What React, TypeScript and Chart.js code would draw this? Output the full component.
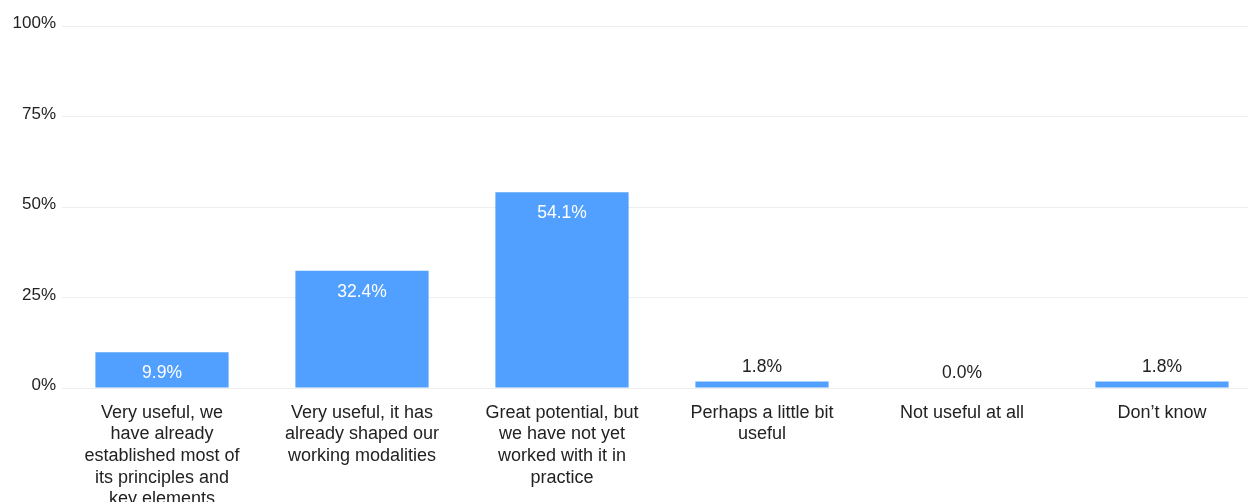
import React, { useEffect, useRef } from "react";
import { Chart, registerables } from "chart.js";

Chart.register(...registerables);

const categories: string[][] = [
  ["Very useful, we", "have already", "established most of", "its principles and", "key elements"],
  ["Very useful, it has", "already shaped our", "working modalities"],
  ["Great potential, but", "we have not yet", "worked with it in", "practice"],
  ["Perhaps a little bit", "useful"],
  ["Not useful at all"],
  ["Don\u2019t know"],
];
const values: number[] = [9.9, 32.4, 54.1, 1.8, 0.0, 1.8];
const yTicks: number[] = [0, 25, 50, 75, 100];

const FONT = "'Liberation Sans', Arial, sans-serif";
const BAR_COLOR = "#519FFF";
const TEXT_COLOR = "#222222";

const valueLabelPlugin = {
  id: "valueLabels",
  afterDatasetsDraw(chart: any) {
    const ctx = chart.ctx;
    const meta = chart.getDatasetMeta(0);
    ctx.save();
    ctx.font = `17.5px ${FONT}`;
    ctx.textAlign = "center";
    ctx.textBaseline = "middle";
    meta.data.forEach((bar: any, i: number) => {
      const v = values[i];
      const h = bar.base - bar.y;
      const txt = v.toFixed(1) + "%";
      if (h > 30) {
        ctx.fillStyle = "#ffffff";
        ctx.fillText(txt, bar.x, bar.y + 21);
      } else {
        ctx.fillStyle = TEXT_COLOR;
        ctx.fillText(txt, bar.x, bar.y - 14.5);
      }
    });
    ctx.restore();
  },
};

export default function App() {
  const ref = useRef<HTMLCanvasElement | null>(null);
  useEffect(() => {
    if (!ref.current) return;
    const chart = new Chart(ref.current, {
      type: "bar",
      data: {
        labels: categories,
        datasets: [
          {
            data: values,
            backgroundColor: BAR_COLOR,
            borderWidth: 0,
            categoryPercentage: 1,
            barPercentage: 0.666,
          },
        ],
      },
      options: {
        animation: false,
        responsive: false,
        maintainAspectRatio: false,
        layout: { padding: { top: 26, left: 0, right: 0, bottom: 0 } },
        plugins: {
          legend: { display: false },
          tooltip: { enabled: false },
        },
        scales: {
          x: {
            grid: { display: false, drawTicks: false },
            border: { display: false },
            ticks: {
              color: TEXT_COLOR,
              font: { family: FONT, size: 18, lineHeight: 1.2 },
              padding: 14,
              maxRotation: 0,
              autoSkip: false,
            },
            afterFit: (scale: any) => {
              scale.height = 130;
            },
          },
          y: {
            min: 0,
            max: 100,
            afterBuildTicks: (scale: any) => {
              scale.ticks = yTicks.map((v) => ({ value: v }));
            },
            grid: { color: "#eeeeee", drawTicks: false, lineWidth: 1 },
            border: { display: false },
            ticks: {
              color: TEXT_COLOR,
              font: { family: FONT, size: 17 },
              padding: 6,
              labelOffset: -2.5,
              callback: (v: any) => v + "%",
            },
            afterFit: (scale: any) => {
              scale.width = 62;
            },
          },
        },
      },
      plugins: [valueLabelPlugin],
    });
    return () => chart.destroy();
  }, []);
  return (
    <div style={{ position: "absolute", left: 0, top: 0, width: 1262, height: 518, overflow: "hidden" }}>
      <canvas ref={ref} width={1262} height={518} style={{ display: "block", width: 1262, height: 518 }} />
    </div>
  );
}
